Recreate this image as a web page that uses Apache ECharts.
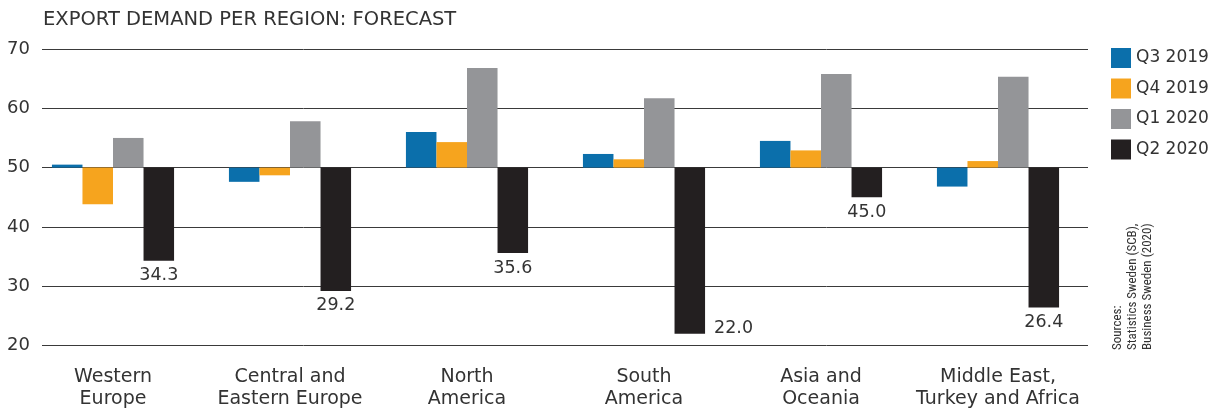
<!DOCTYPE html>
<html>
<head>
<meta charset="utf-8">
<script src="https://cdn.jsdelivr.net/npm/echarts@6/dist/echarts.min.js"></script>
<style>
html,body{margin:0;padding:0;background:#fff;}
#chart{width:1220px;height:412px;}
</style>
</head>
<body>
<div id="chart"></div>
<script>
// ---- data ----
const categories = ['Western\nEurope', 'Central and\nEastern Europe', 'North\nAmerica', 'South\nAmerica', 'Asia and\nOceania', 'Middle East,\nTurkey and Africa'];
const seriesNames = ['Q3 2019', 'Q4 2019', 'Q1 2020', 'Q2 2020'];
const q3_2019 = [50.5, 47.6, 56.0, 52.3, 54.5, 46.8];
const q4_2019 = [43.8, 48.7, 54.3, 51.4, 52.9, 51.1];
const q1_2020 = [55.0, 57.8, 66.8, 61.7, 65.8, 65.3];
const q2_2020 = [34.3, 29.2, 35.6, 22.0, 45.0, 26.4];
const baseline = 50;
const yTicks = [20, 30, 40, 50, 60, 70];
const titleText = 'EXPORT DEMAND PER REGION: FORECAST';
const sourceText = 'Sources:\nStatistics Sweden (SCB),\nBusiness Sweden (2020)';

const colors = ['#0b6fab', '#f6a41e', '#949598', '#231f20'];
const FONT = '"DejaVu Sans", sans-serif';
const TXT = '#333333';

const allValues = [q3_2019, q4_2019, q1_2020, q2_2020];
const series = [];
allValues.forEach((vals, i) => {
  series.push({
    name: 'base' + i, type: 'bar', stack: 's' + i,
    xAxisIndex: 0, yAxisIndex: 0,
    data: vals.map(v => Math.min(v, baseline)),
    itemStyle: { color: 'rgba(0,0,0,0)' }, silent: true,
    barCategoryGap: '31%', barGap: '0%'
  });
  const s = {
    name: seriesNames[i], type: 'bar', stack: 's' + i,
    xAxisIndex: 0, yAxisIndex: 0,
    data: vals.map(v => Math.abs(v - baseline)),
    itemStyle: { color: colors[i] },
    barCategoryGap: '31%', barGap: '0%'
  };
  if (i === 3) {
    s.data = vals.map((v, k) => {
      const d = { value: Math.abs(v - baseline) };
      if (v === Math.min.apply(null, vals)) {
        d.label = { position: ['100%', '100%'], align: 'left', verticalAlign: 'bottom', offset: [9, 4] };
      }
      return d;
    });
    s.label = {
      show: true, position: 'bottom', distance: 6,
      fontFamily: FONT, fontSize: 17.5, color: TXT,
      formatter: p => vals[p.dataIndex].toFixed(1)
    };
  }
  series.push(s);
});

const chart = echarts.init(document.getElementById('chart'), null, { renderer: 'canvas' });
chart.setOption({
  animation: false,
  backgroundColor: '#ffffff',
  title: {
    text: titleText, left: 43, top: 10, padding: 0,
    textStyle: { fontFamily: FONT, fontSize: 19.5, fontWeight: 'normal', color: TXT }
  },
  legend: {
    data: seriesNames, orient: 'vertical', left: 1111, top: 48, padding: 0,
    itemWidth: 20, itemHeight: 20, itemGap: 10.5, icon: 'rect',
    textStyle: { fontFamily: FONT, fontSize: 17, color: TXT }
  },
  grid: [
    { left: 24.5, right: 133.5, top: 49, bottom: 66.5 },
    { left: 42, right: 132, top: 49, bottom: 66.5 }
  ],
  xAxis: [
    { type: 'category', gridIndex: 0, data: categories,
      axisLine: { show: false }, axisTick: { show: false },
      axisLabel: { fontFamily: FONT, fontSize: 19, color: TXT, lineHeight: 21.7, margin: 21, interval: 0 } },
    { type: 'category', gridIndex: 1, data: categories, show: false }
  ],
  yAxis: [
    { type: 'value', gridIndex: 0, min: yTicks[0], max: yTicks[yTicks.length - 1], interval: 10, show: false },
    { type: 'value', gridIndex: 1, min: yTicks[0], max: yTicks[yTicks.length - 1], interval: 10,
      axisLine: { show: false }, axisTick: { show: false },
      axisLabel: { fontFamily: FONT, fontSize: 18, color: TXT, margin: 12 },
      splitLine: { lineStyle: { color: '#3a3a3a', width: 1 } } }
  ],
  graphic: [{
    type: 'text', x: 1110, y: 350, rotation: Math.PI / 2,
    style: { text: sourceText, font: '13px "Liberation Sans Narrow", "Roboto Condensed", Roboto, sans-serif', fill: TXT, lineHeight: 15, textAlign: 'left', textVerticalAlign: 'top' }
  }],
  series: series
});
</script>
</body>
</html>
